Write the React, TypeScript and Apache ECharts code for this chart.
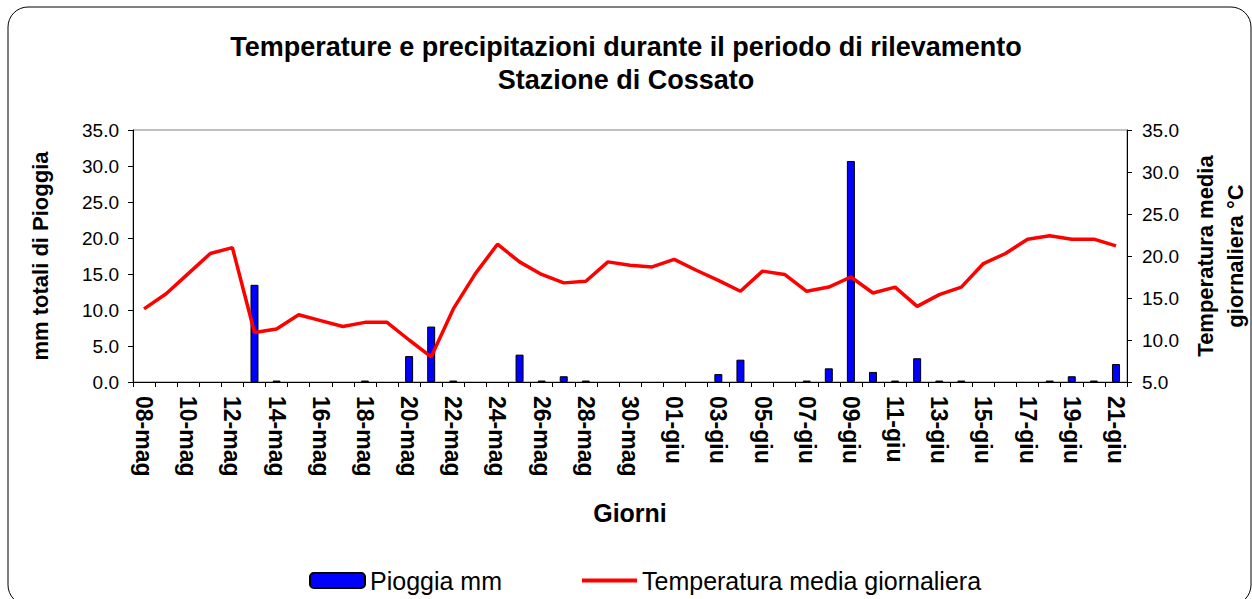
import React, { useEffect, useRef } from "react";
import * as echarts from "echarts";

const days = [
  "08-mag", "09-mag", "10-mag", "11-mag", "12-mag", "13-mag", "14-mag", "15-mag", "16-mag", "17-mag",
  "18-mag", "19-mag", "20-mag", "21-mag", "22-mag", "23-mag", "24-mag", "25-mag", "26-mag", "27-mag",
  "28-mag", "29-mag", "30-mag", "31-mag", "01-giu", "02-giu", "03-giu", "04-giu", "05-giu", "06-giu",
  "07-giu", "08-giu", "09-giu", "10-giu", "11-giu", "12-giu", "13-giu", "14-giu", "15-giu", "16-giu",
  "17-giu", "18-giu", "19-giu", "20-giu", "21-giu",
];

const rain = [
  0, 0, 0, 0, 0, 13.5, 0.2, 0, 0, 0,
  0.2, 0, 3.6, 7.7, 0.2, 0, 0, 3.8, 0.2, 0.8,
  0.2, 0, 0, 0, 0, 0, 1.1, 3.1, 0, 0,
  0.2, 1.9, 30.7, 1.4, 0.2, 3.3, 0.2, 0.2, 0, 0,
  0, 0.2, 0.8, 0.2, 2.5,
];

const temperature = [
  13.7, 15.5, 17.9, 20.3, 21.0, 10.9, 11.3, 13.0, 12.3, 11.6,
  12.1, 12.1, 10.0, 8.0, 13.7, 17.9, 21.4, 19.3, 17.8, 16.8,
  17.0, 19.3, 18.9, 18.7, 19.6, 18.3, 17.1, 15.8, 18.2, 17.8,
  15.8, 16.3, 17.5, 15.6, 16.3, 14.0, 15.4, 16.3, 19.1, 20.3,
  22.0, 22.4, 22.0, 22.0, 21.2,
];

const FONT = '"Liberation Sans", Arial, sans-serif';

export default function App() {
  const ref = useRef<HTMLDivElement>(null);
  useEffect(() => {
    if (!ref.current) return;
    const chart = echarts.init(ref.current, undefined, { renderer: "svg" });
    chart.setOption({
      animation: false,
      backgroundColor: "#ffffff",
      textStyle: { fontFamily: FONT, color: "#000" },
      title: {
        text: "Temperature e precipitazioni durante il periodo di rilevamento\nStazione di Cossato",
        left: "center",
        top: 25,
        textStyle: { fontFamily: FONT, fontSize: 27, fontWeight: "bold", lineHeight: 33, color: "#000" },
      },
      graphic: [
        {
          type: "rect",
          shape: { x: 8, y: 7, width: 1243, height: 598, r: 20 },
          style: { fill: "none", stroke: "#000", lineWidth: 1 },
          silent: true,
          z: -1,
        },
      ],
      legend: {
        left: 304,
        top: 563,
        itemWidth: 55,
        itemHeight: 15,
        itemGap: 80,
        symbolKeepAspect: true,
        textStyle: { fontFamily: FONT, fontSize: 25, color: "#000" },
        data: [
          { name: "Pioggia mm" },
          {
            name: "Temperatura media giornaliera",
            icon: "path://M0,0L57,0L57,4L0,4Z",
            itemStyle: { color: "#ff0000" },
          },
        ],
      },
      grid: {
        left: 133,
        right: 125,
        top: 130,
        bottom: 217,
        show: true,
        borderColor: "#808080",
        borderWidth: 1,
        backgroundColor: "transparent",
        containLabel: false,
        outerBoundsMode: "none",
      },
      xAxis: {
        type: "category",
        data: days,
        boundaryGap: true,
        name: "Giorni",
        nameLocation: "middle",
        nameGap: 118,
        nameTextStyle: { fontFamily: FONT, fontSize: 25, fontWeight: "bold", color: "#000", verticalAlign: "top" },
        axisLine: { lineStyle: { color: "#000", width: 1 } },
        axisTick: { show: true, interval: 0, length: 5, lineStyle: { color: "#000" } },
        axisLabel: {
          interval: 1,
          rotate: -90,
          margin: 14,
          fontFamily: FONT,
          fontSize: 23,
          fontWeight: "bold",
          color: "#000",
        },
        splitLine: { show: false },
      },
      yAxis: [
        {
          type: "value",
          min: 0,
          max: 35,
          interval: 5,
          name: "mm totali di Pioggia",
          nameLocation: "middle",
          nameRotate: 90,
          nameGap: 82,
          nameTextStyle: { fontFamily: FONT, fontSize: 22, fontWeight: "bold", color: "#000" },
          axisLine: { show: true, lineStyle: { color: "#000", width: 1 } },
          axisTick: { show: true, length: 5, lineStyle: { color: "#000" } },
          axisLabel: {
            margin: 14,
            fontFamily: FONT,
            fontSize: 19,
            color: "#000",
            formatter: (v: number) => v.toFixed(1),
          },
          splitLine: { show: false },
        },
        {
          type: "value",
          min: 5,
          max: 35,
          interval: 5,
          position: "right",
          name: "Temperatura media\ngiornaliera °C",
          nameLocation: "middle",
          nameRotate: 90,
          nameGap: 63,
          nameTextStyle: { fontFamily: FONT, fontSize: 22, fontWeight: "bold", color: "#000", lineHeight: 30 },
          axisLine: { show: true, lineStyle: { color: "#000", width: 1 } },
          axisTick: { show: true, length: 5, lineStyle: { color: "#000" } },
          axisLabel: {
            margin: 15,
            fontFamily: FONT,
            fontSize: 19,
            color: "#000",
            formatter: (v: number) => v.toFixed(1),
          },
          splitLine: { show: false },
        },
      ],
      series: [
        {
          name: "Pioggia mm",
          type: "bar",
          yAxisIndex: 0,
          data: rain.map((v) => (v === 0 ? null : v)),
          barWidth: 8,
          itemStyle: { color: "#0000ff", borderColor: "#000", borderWidth: 1 },
        },
        {
          name: "Temperatura media giornaliera",
          type: "line",
          yAxisIndex: 1,
          data: temperature,
          symbol: "none",
          lineStyle: { color: "#ff0000", width: 3.5 },
          itemStyle: { color: "#ff0000" },
          z: 3,
        },
      ],
    });
    return () => chart.dispose();
  }, []);
  return (
    <div
      ref={ref}
      style={{ position: "absolute", left: 0, top: 0, width: 1252, height: 599 }}
    />
  );
}
